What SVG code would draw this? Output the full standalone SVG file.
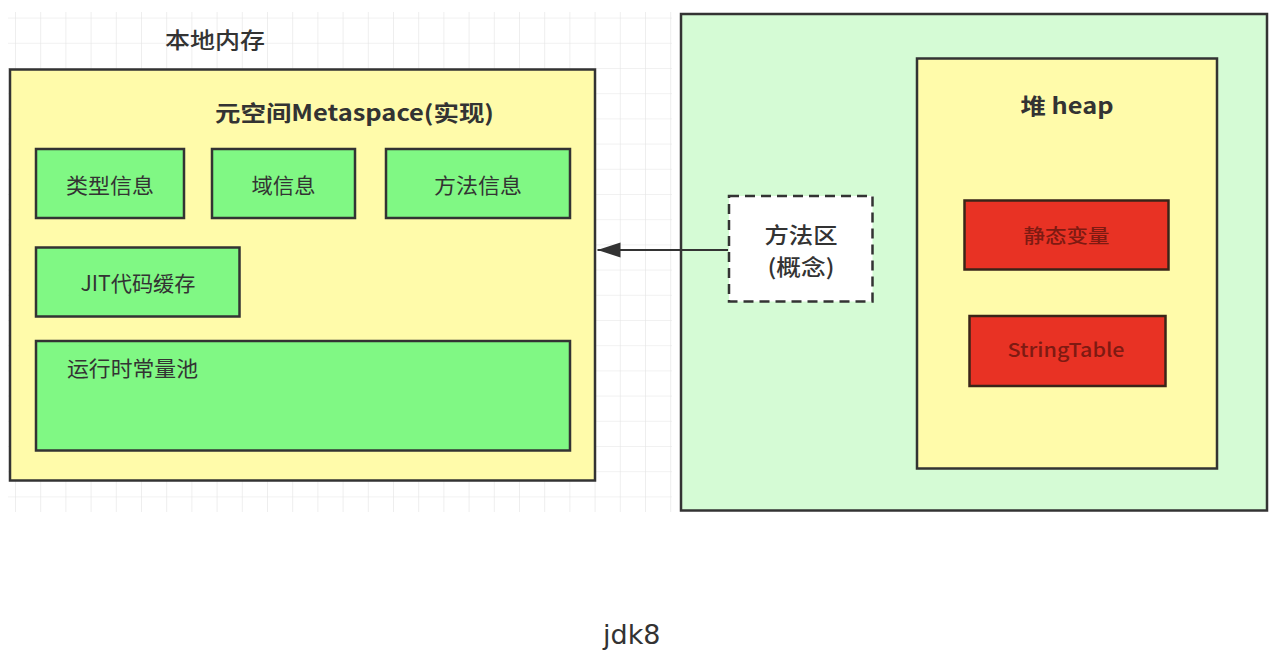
<svg xmlns="http://www.w3.org/2000/svg" width="1278" height="666" viewBox="0 0 1278 666">
  <defs>
    <pattern id="grid" x="15" y="17.6" width="25.2" height="25.2" patternUnits="userSpaceOnUse">
      <path d="M0 0V25.2M0 0H25.2" fill="none" stroke="#e4e4e4" stroke-width="1.2"/>
    </pattern>
    <marker id="arrow" markerUnits="userSpaceOnUse" markerWidth="24" markerHeight="16" refX="23" refY="7.5" orient="auto">
      <path d="M0 0L23 7.5L0 15Z" fill="#333"/>
    </marker>
    <style>
      .cjk { font-family: "Noto Sans CJK SC", "Liberation Sans", sans-serif; fill: #333; }
      .box { stroke: #333; stroke-width: 2.5; }
      .yellow { fill: #fffbaa; }
      .green { fill: #80f884; }
      .red { fill: #e83224; stroke: #3a2418; stroke-width: 2.5; }
      .redtxt { font-family: "Noto Sans CJK SC", "Liberation Sans", sans-serif; fill: #7e1a12; font-size: 19px; font-weight: 500; }
      .lbl { font-size: 21px; }
    </style>
  </defs>

  <rect width="1278" height="666" fill="#ffffff"/>
  <rect x="8" y="12" width="664" height="500" fill="url(#grid)"/>

  <g id="native-memory">
    <text class="cjk" x="215" y="48" font-size="22" font-weight="500" text-anchor="middle" textLength="100" lengthAdjust="spacingAndGlyphs">本地内存</text>
  </g>

  <g id="metaspace">
    <rect class="box yellow" x="10" y="69.5" width="585" height="411"/>
    <text class="cjk" x="354.5" y="121" font-size="22" font-weight="bold" text-anchor="middle" textLength="279" lengthAdjust="spacingAndGlyphs">元空间Metaspace(实现)</text>
  </g>

  <g id="type-info">
    <rect class="box green" x="36" y="149" width="148" height="69"/>
    <text class="cjk lbl" x="110" y="193" text-anchor="middle" textLength="88" lengthAdjust="spacingAndGlyphs">类型信息</text>
  </g>
  <g id="field-info">
    <rect class="box green" x="212" y="149" width="143" height="69"/>
    <text class="cjk lbl" x="283.5" y="193" text-anchor="middle" textLength="64" lengthAdjust="spacingAndGlyphs">域信息</text>
  </g>
  <g id="method-info">
    <rect class="box green" x="386" y="149" width="184" height="69"/>
    <text class="cjk lbl" x="478" y="193" text-anchor="middle" textLength="88" lengthAdjust="spacingAndGlyphs">方法信息</text>
  </g>
  <g id="jit-cache">
    <rect class="box green" x="36" y="247.5" width="203.5" height="69"/>
    <text class="cjk lbl" x="138" y="291" text-anchor="middle" textLength="115" lengthAdjust="spacingAndGlyphs">JIT代码缓存</text>
  </g>
  <g id="runtime-constant-pool">
    <rect class="box green" x="36" y="341" width="534" height="109.5"/>
    <text class="cjk lbl" x="67" y="376" textLength="131" lengthAdjust="spacingAndGlyphs">运行时常量池</text>
  </g>

  <g id="jvm-area">
    <rect class="box" x="681" y="14" width="586" height="496.5" fill="#d5fbd5"/>
  </g>

  <g id="heap">
    <rect class="box yellow" x="917" y="58.5" width="300" height="410"/>
    <text class="cjk" x="1067" y="114" font-size="22" font-weight="bold" text-anchor="middle" textLength="93" lengthAdjust="spacingAndGlyphs">堆 heap</text>
  </g>

  <g id="static-vars">
    <rect class="red" x="964.5" y="200.5" width="204" height="69"/>
    <text class="redtxt" x="1066.5" y="243" text-anchor="middle" textLength="86" lengthAdjust="spacingAndGlyphs">静态变量</text>
  </g>
  <g id="string-table">
    <rect class="red" x="969.5" y="316" width="196" height="70"/>
    <text class="redtxt" x="1066" y="357" text-anchor="middle" textLength="117" lengthAdjust="spacingAndGlyphs">StringTable</text>
  </g>

  <g id="method-area">
    <rect x="729" y="196" width="143.5" height="105.5" fill="#ffffff" stroke="#333" stroke-width="2.5" stroke-dasharray="10,6"/>
    <text class="cjk" x="801" y="243" font-size="22" font-weight="500" text-anchor="middle" textLength="73" lengthAdjust="spacingAndGlyphs">方法区</text>
    <text class="cjk" x="801" y="275" font-size="22" font-weight="500" text-anchor="middle" textLength="67" lengthAdjust="spacingAndGlyphs">(概念)</text>
  </g>

  <g id="connectors">
    <line x1="728" y1="250" x2="597.5" y2="250" stroke="#333" stroke-width="2.2" marker-end="url(#arrow)"/>
  </g>

  <g id="caption">
    <text x="603" y="644" font-family="DejaVu Sans, sans-serif" font-size="27" fill="#333">jdk8</text>
  </g>
</svg>
